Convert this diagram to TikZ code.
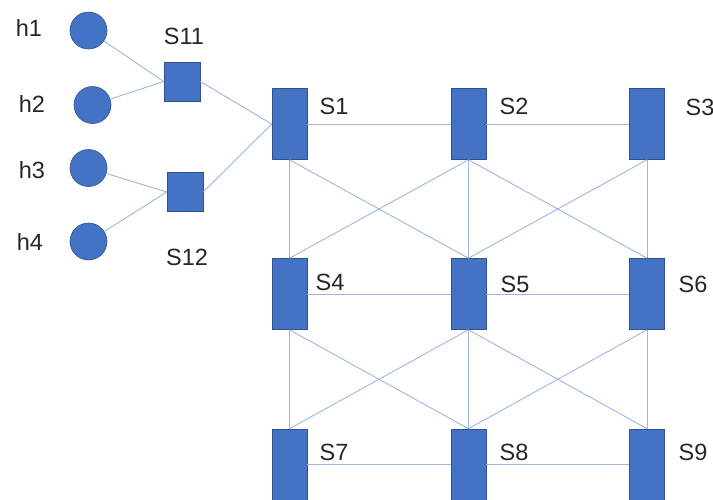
\documentclass[tikz,border=0pt]{standalone}
\usepackage{fontspec}
\setmainfont{Liberation Sans}
\usepackage{tikz}
\usetikzlibrary{shapes,positioning}
\definecolor{nodeblue}{HTML}{4472C4}
\definecolor{nodeedge}{HTML}{2F528F}
\definecolor{linkblue}{HTML}{9DB5E0}
\definecolor{labelgray}{HTML}{262626}
\tikzset{
  host/.style={circle, draw=nodeedge, line width=0.6pt, fill=nodeblue, minimum size=37pt, inner sep=0pt},
  edgesw/.style={rectangle, draw=nodeedge, line width=0.6pt, fill=nodeblue, minimum width=36pt, minimum height=39pt, inner sep=0pt},
  fabricsw/.style={rectangle, draw=nodeedge, line width=0.6pt, fill=nodeblue, minimum width=35pt, minimum height=71pt, inner sep=0pt},
  link/.style={draw=linkblue, line width=0.9pt},
  tag/.style={text=labelgray, font=\fontsize{23.5}{26}\selectfont, inner sep=0pt}
}

\begin{document}
\begin{tikzpicture}[x=1pt, y=-1pt]
        % page frame
        \useasboundingbox (0,0) rectangle (713,499);
        \clip (0,0) rectangle (713,499);

        % Hosts
        \node[host] (h1) at (88.5,30.5) {};
        \node[host] (h2) at (92.5,105) {};
        \node[host] (h3) at (88.5,168) {};
        \node[host] (h4) at (88.5,241.5) {};
        \node[tag] (th1) at (29,28) {h1};
        \node[tag] (th2) at (32,104) {h2};
        \node[tag] (th3) at (32,170) {h3};
        \node[tag] (th4) at (30,242) {h4};

        % Access switches
        \node[edgesw] (s11) at (182,81.5) {};
        \node[edgesw] (s12) at (185,192) {};
        \node[tag] (ts11) at (184,36) {S11};
        \node[tag] (ts12) at (187,257) {S12};

        % Switch grid, three rows of three
        \node[fabricsw] (s1) at (289.5,124) {};
        \node[fabricsw] (s2) at (468.5,124) {};
        \node[fabricsw] (s3) at (647,124) {};
        \node[fabricsw] (s4) at (289.5,294) {};
        \node[fabricsw] (s5) at (468.5,294) {};
        \node[fabricsw] (s6) at (647,294) {};
        \node[fabricsw] (s7) at (289.5,464.5) {};
        \node[fabricsw] (s8) at (468.5,464.5) {};
        \node[fabricsw] (s9) at (647,464.5) {};

        \node[tag] (ts1) at (334,106) {S1};
        \node[tag] (ts2) at (514,106) {S2};
        \node[tag] (ts3) at (700,107) {S3};
        \node[tag] (ts4) at (330,282) {S4};
        \node[tag] (ts5) at (515,284) {S5};
        \node[tag] (ts6) at (693,284) {S6};
        \node[tag] (ts7) at (334,452) {S7};
        \node[tag] (ts8) at (514,452) {S8};
        \node[tag] (ts9) at (693,452) {S9};

        % Host and access links
        \draw[link] (h1) -- (s11.west);
        \draw[link] (h2) -- (s11.west);
        \draw[link] (h3) -- (s12.west);
        \draw[link] (h4) -- (s12.west);
        \draw[link] (s11.east) -- (s1.west);
        \draw[link] (s12.east) -- (s1.west);

        % Row links
        \draw[link] (s1) -- (s2);
        \draw[link] (s2) -- (s3);
        \draw[link] (s4) -- (s5);
        \draw[link] (s5) -- (s6);
        \draw[link] (s7) -- (s8);
        \draw[link] (s8) -- (s9);

        % Links between rows
        \foreach \up/\down in {s1/s4, s2/s5, s3/s6, s1/s5, s2/s4, s2/s6, s3/s5,
                               s4/s7, s5/s8, s6/s9, s4/s8, s5/s7, s5/s9, s6/s8}
          \draw[link] (\up.south) -- (\down.north);
    \end{tikzpicture}
\end{document}
